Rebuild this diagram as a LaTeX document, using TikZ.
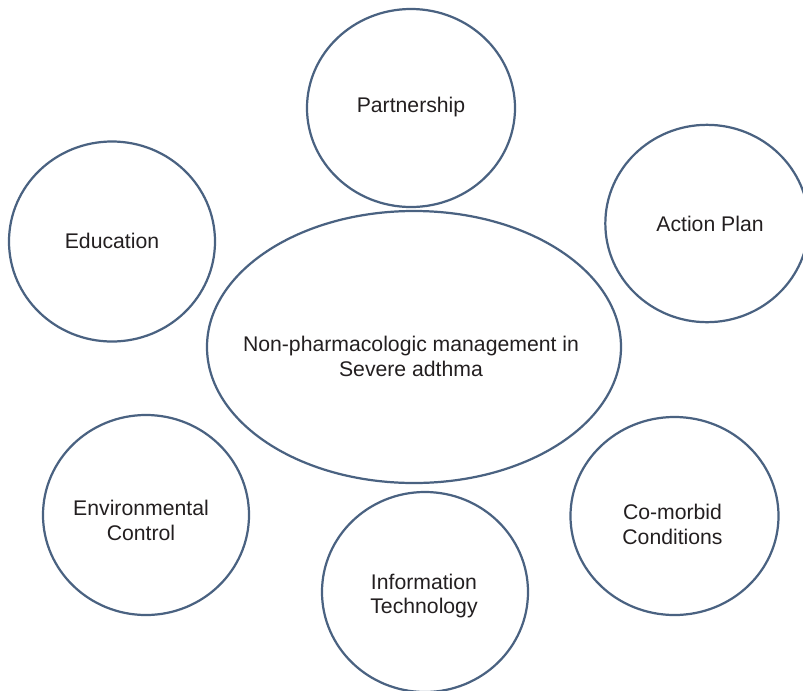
\documentclass[tikz,border=0pt]{standalone}
\usepackage{fontspec}
\setmainfont{Liberation Sans}
\usetikzlibrary{shapes.geometric}

\definecolor{ringblue}{HTML}{4A6281}
\definecolor{inkgray}{HTML}{231F20}

\tikzset{
    ring/.style={ellipse, draw=ringblue, line width=1.9pt, inner sep=0pt,
        minimum width=6.18cm, minimum height=6cm},
    hub/.style={ring, minimum width=12.42cm, minimum height=8.16cm},
    caption/.style={text=inkgray, align=center, inner sep=0pt,
        font=\fontsize{18.1}{21.3}\selectfont}
}

\begin{document}
\begin{tikzpicture}[x=0.03cm, y=-0.03cm]

    \useasboundingbox (0,0) rectangle (803,690);

    % the central ellipse
    \node[hub] (main) at (414,347) {};
    \node[caption] (mainText) at ([shift={(-3,9)}]main.center)
        {Non-pharmacologic management in\\Severe adthma};

    % the six rings around it
    \node[ring, minimum width=6.24cm, minimum height=5.94cm]
        (partnership) at (411,108) {};
    \node[ring, minimum width=6.1cm, minimum height=5.92cm]
        (plan) at (707,223.5) {};
    \node[ring] (education) at (112,241.5) {};
    \node[ring] (environment) at (146,515) {};
    \node[ring] (technology) at (425,592) {};
    \node[ring, minimum width=6.24cm, minimum height=5.94cm]
        (comorbid) at (674.5,516) {};

    % their captions
    \node[caption] (partnershipText) at ([shift={(0,-1)}]partnership.center)
        {Partnership};
    \node[caption] (planText) at ([shift={(3,0)}]plan.center) {Action Plan};
    \node[caption] (educationText) at ([shift={(0,-1)}]education.center)
        {Education};
    \node[caption] (environmentText) at ([shift={(-5,5)}]environment.center)
        {Environmental\\Control};
    \node[caption] (technologyText) at ([shift={(-1,4)}]technology.center)
        {Information\\Technology};
    \node[caption] (comorbidText) at ([shift={(-2,8)}]comorbid.center)
        {Co-morbid\\Conditions};

\end{tikzpicture}
\end{document}
